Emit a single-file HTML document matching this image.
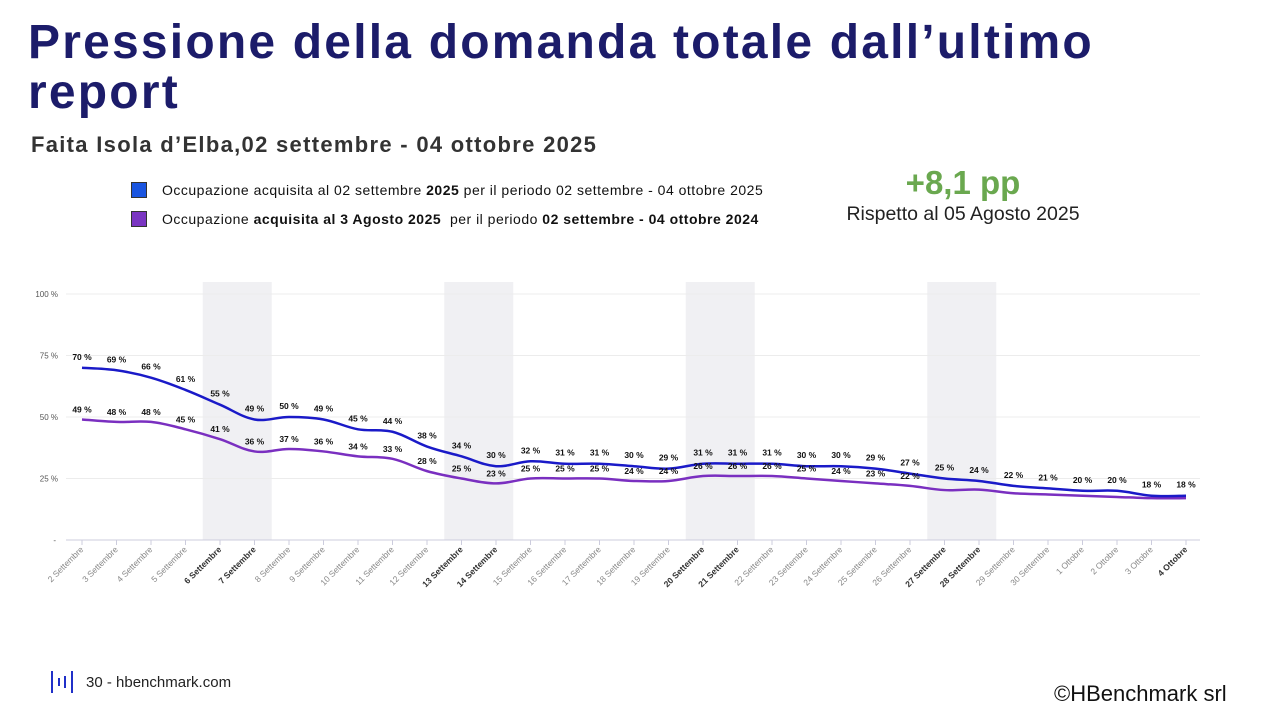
<!DOCTYPE html>
<html><head><meta charset="utf-8"><style>
body{margin:0;width:1280px;height:720px;background:#fff;font-family:"Liberation Sans",sans-serif;overflow:hidden;position:relative}
.t{position:absolute;left:28px;top:18px;font-size:48px;font-weight:bold;color:#1c1c6a;line-height:50px;letter-spacing:2.2px}
.s{position:absolute;left:31px;top:132px;font-size:22px;font-weight:bold;color:#333;letter-spacing:1.3px}
.lg{position:absolute;font-size:14px;color:#111;letter-spacing:0.5px}
.sq{position:absolute;width:16px;height:16px;border:1px solid #333;box-sizing:border-box}
</style></head><body>
<div class="t">Pressione della domanda totale dall’ultimo<br>report</div>
<div class="s">Faita Isola d’Elba,02 settembre - 04 ottobre 2025</div>
<div class="sq" style="left:131px;top:182px;background:#1a55e0"></div>
<div class="lg" style="left:162px;top:182px">Occupazione acquisita al 02 settembre <b>2025</b> per il periodo 02 settembre - 04 ottobre 2025</div>
<div class="sq" style="left:131px;top:211px;background:#7a35c2"></div>
<div class="lg" style="left:162px;top:211px">Occupazione <b>acquisita al 3 Agosto 2025</b>&nbsp; per il periodo <b>02 settembre - 04 ottobre 2024</b></div>
<div style="position:absolute;left:863px;top:164px;width:200px;text-align:center;font-size:33px;font-weight:bold;color:#6aa84f">+8,1 pp</div>
<div style="position:absolute;left:813px;top:203px;width:300px;text-align:center;font-size:19.5px;color:#222">Rispetto al 05 Agosto 2025</div>
<svg id="c" width="1280" height="720" style="position:absolute;left:0;top:0"></svg>
<div style="position:absolute;left:51px;top:671px;width:24px;height:22px">
<div style="position:absolute;left:0;top:0;width:2px;height:22px;background:#2030c8"></div>
<div style="position:absolute;left:7px;top:7px;width:2px;height:8px;background:#2030c8"></div>
<div style="position:absolute;left:13px;top:5px;width:2px;height:12px;background:#2030c8"></div>
<div style="position:absolute;left:20px;top:0;width:2px;height:22px;background:#2030c8"></div></div>
<div style="position:absolute;left:86px;top:674px;font-size:15px;color:#222">30 - hbenchmark.com</div>
<div style="position:absolute;left:1054px;top:681px;font-size:22px;color:#111">©HBenchmark srl</div>
<script>
var b=[70,69,66,61,55,49,50,49,45,44,38,34,30,32,31,31,30,29,31,31,31,30,30,29,27,25,24,22,21,20,20,18,18];
var p=[49,48,48,45,41,36,37,36,34,33,28,25,23,25,25,25,24,24,26,26,26,25,24,23,22,20.3,20.5,19,18.5,18,17.5,17,17];
var pl=[49,48,48,45,41,36,37,36,34,33,28,25,23,25,25,25,24,24,26,26,26,25,24,23,22];
var n=["2 Settembre","3 Settembre","4 Settembre","5 Settembre","6 Settembre","7 Settembre","8 Settembre","9 Settembre","10 Settembre","11 Settembre","12 Settembre","13 Settembre","14 Settembre","15 Settembre","16 Settembre","17 Settembre","18 Settembre","19 Settembre","20 Settembre","21 Settembre","22 Settembre","23 Settembre","24 Settembre","25 Settembre","26 Settembre","27 Settembre","28 Settembre","29 Settembre","30 Settembre","1 Ottobre","2 Ottobre","3 Ottobre","4 Ottobre"];
var bold=[4,5,11,12,18,19,25,26,32];
function X(i){return 82+i*34.5}function Y(v){return 540-v*2.46}
var s='';
[[4,5],[11,12],[18,19],[25,26]].forEach(function(a){s+='<rect x="'+(X(a[0])-17.25)+'" y="282" width="69" height="258" fill="#f0f0f3"/>'});
[100,75,50,25].forEach(function(v){s+='<line x1="66" x2="1200" y1="'+Y(v)+'" y2="'+Y(v)+'" stroke="#ececec"/><text x="58" y="'+(Y(v)+3)+'" font-size="8" fill="#555" text-anchor="end">'+v+' %</text>'});
s+='<text x="56" y="543" font-size="8" fill="#555" text-anchor="end">-</text>';
s+='<line x1="66" x2="1200" y1="540" y2="540" stroke="#ccd"/>';
function path(d){var pts=d.map(function(v,i){return[X(i),Y(v)]});var r='M'+pts[0];for(var i=0;i<pts.length-1;i++){var p0=pts[Math.max(0,i-1)],p1=pts[i],p2=pts[i+1],p3=pts[Math.min(pts.length-1,i+2)];var t=0.18;r+=' C'+(p1[0]+(p2[0]-p0[0])*t)+','+(p1[1]+(p2[1]-p0[1])*t)+' '+(p2[0]-(p3[0]-p1[0])*t)+','+(p2[1]-(p3[1]-p1[1])*t)+' '+p2[0]+','+p2[1]}return r}
s+='<path d="'+path(p)+'" fill="none" stroke="#7a2fc0" stroke-width="2.5"/>';
s+='<path d="'+path(b)+'" fill="none" stroke="#1a1ac8" stroke-width="2.5"/>';
b.forEach(function(v,i){s+='<text x="'+X(i)+'" y="'+(Y(v)-8)+'" font-size="8.5" font-weight="bold" fill="#111" text-anchor="middle">'+v+' %</text>'});
pl.forEach(function(v,i){s+='<text x="'+X(i)+'" y="'+(Y(v)-7)+'" font-size="8.5" font-weight="bold" fill="#111" text-anchor="middle">'+v+' %</text>'});
n.forEach(function(t,i){var x=X(i);s+='<line x1="'+x+'" x2="'+x+'" y1="540" y2="545" stroke="#ccd"/><text transform="translate('+(x+2)+',550) rotate(-45)" font-size="8.5" text-anchor="end" fill="'+(bold.indexOf(i)>=0?'#333':'#888')+'" font-weight="'+(bold.indexOf(i)>=0?'bold':'normal')+'">'+t+'</text>'});
document.getElementById('c').innerHTML=s;
</script>
</body></html>
